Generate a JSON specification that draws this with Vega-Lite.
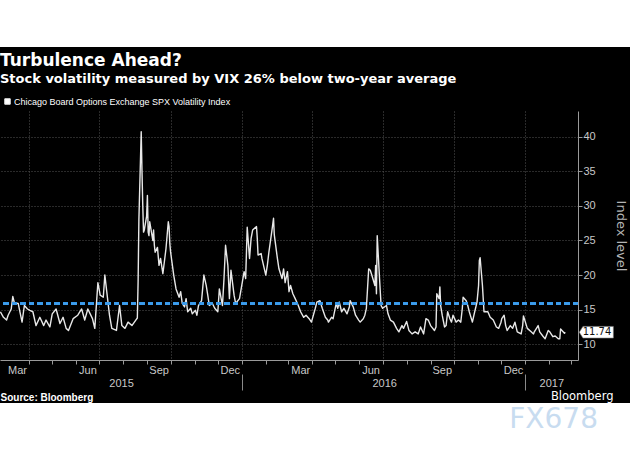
{
  "$schema": "https://vega.github.io/schema/vega-lite/v6.json",
  "background": "#000000",
  "padding": 0,
  "spacing": 5,
  "resolve": {"legend": {"color": "independent"}},
  "config": {
    "view": {"stroke": null},
    "font": "Liberation Sans",
    "axis": {
      "labelFont": "Liberation Sans",
      "labelFontSize": 11,
      "labelColor": "#c8c8c8",
      "domainColor": "#9a9a9a",
      "tickColor": "#9a9a9a",
      "gridColor": "#555555",
      "gridDash": [1, 2],
      "gridWidth": 1
    }
  },
  "vconcat": [
    {
      "width": 630,
      "height": 47,
      "view": {"fill": "#ffffff", "stroke": null},
      "data": {"values": []},
      "mark": "point",
      "encoding": {}
    },
    {
      "spacing": 0,
      "resolve": {"legend": {"color": "independent"}},
      "vconcat": [
        {
          "width": 578,
          "height": 249,
          "title": {
            "text": "Turbulence Ahead?",
            "subtitle": "Stock volatility measured by VIX 26% below two-year average",
            "anchor": "start",
            "font": "DejaVu Sans",
            "fontSize": 17,
            "fontWeight": "bold",
            "color": "#ffffff",
            "subtitleFont": "DejaVu Sans",
            "subtitleFontSize": 13,
            "subtitleFontWeight": "bold",
            "subtitleColor": "#ffffff",
            "subtitlePadding": 3,
            "offset": 10
          },
          "data": {
            "values": [
              {"date": "2015-02-23", "vix": 14.7}, {"date": "2015-02-27", "vix": 13.9}, {"date": "2015-03-03", "vix": 13.5},
              {"date": "2015-03-05", "vix": 14.2}, {"date": "2015-03-09", "vix": 15.1}, {"date": "2015-03-11", "vix": 16.9},
              {"date": "2015-03-13", "vix": 16.0}, {"date": "2015-03-18", "vix": 15.9}, {"date": "2015-03-23", "vix": 13.2},
              {"date": "2015-03-26", "vix": 15.6}, {"date": "2015-03-30", "vix": 15.1}, {"date": "2015-04-02", "vix": 14.9},
              {"date": "2015-04-06", "vix": 14.7}, {"date": "2015-04-10", "vix": 12.7}, {"date": "2015-04-15", "vix": 13.9},
              {"date": "2015-04-20", "vix": 12.7}, {"date": "2015-04-23", "vix": 13.5}, {"date": "2015-04-28", "vix": 12.5},
              {"date": "2015-05-01", "vix": 14.4}, {"date": "2015-05-06", "vix": 15.1}, {"date": "2015-05-11", "vix": 13.0},
              {"date": "2015-05-15", "vix": 13.9}, {"date": "2015-05-19", "vix": 12.3}, {"date": "2015-05-22", "vix": 12.0},
              {"date": "2015-05-28", "vix": 13.7}, {"date": "2015-06-03", "vix": 14.2}, {"date": "2015-06-08", "vix": 15.1},
              {"date": "2015-06-12", "vix": 13.5}, {"date": "2015-06-16", "vix": 15.1}, {"date": "2015-06-22", "vix": 13.7},
              {"date": "2015-06-25", "vix": 12.3}, {"date": "2015-06-29", "vix": 18.9}, {"date": "2015-07-02", "vix": 17.1},
              {"date": "2015-07-06", "vix": 16.8}, {"date": "2015-07-08", "vix": 20.0}, {"date": "2015-07-14", "vix": 14.2},
              {"date": "2015-07-17", "vix": 12.3}, {"date": "2015-07-23", "vix": 12.0}, {"date": "2015-07-27", "vix": 15.6},
              {"date": "2015-07-30", "vix": 12.7}, {"date": "2015-08-03", "vix": 12.3}, {"date": "2015-08-07", "vix": 13.2},
              {"date": "2015-08-12", "vix": 12.7}, {"date": "2015-08-17", "vix": 13.5}, {"date": "2015-08-19", "vix": 13.8},
              {"date": "2015-08-20", "vix": 19.1}, {"date": "2015-08-21", "vix": 28.0}, {"date": "2015-08-24", "vix": 40.7},
              {"date": "2015-08-25", "vix": 35.0}, {"date": "2015-08-26", "vix": 30.1}, {"date": "2015-08-27", "vix": 26.2},
              {"date": "2015-08-28", "vix": 26.5}, {"date": "2015-08-31", "vix": 28.5}, {"date": "2015-09-01", "vix": 31.5},
              {"date": "2015-09-02", "vix": 26.2}, {"date": "2015-09-03", "vix": 25.7}, {"date": "2015-09-04", "vix": 27.7},
              {"date": "2015-09-08", "vix": 25.0}, {"date": "2015-09-09", "vix": 26.5}, {"date": "2015-09-10", "vix": 24.3},
              {"date": "2015-09-11", "vix": 23.3}, {"date": "2015-09-14", "vix": 24.0}, {"date": "2015-09-16", "vix": 21.4},
              {"date": "2015-09-18", "vix": 22.4}, {"date": "2015-09-21", "vix": 20.2}, {"date": "2015-09-23", "vix": 22.0},
              {"date": "2015-09-25", "vix": 23.8}, {"date": "2015-09-28", "vix": 27.7}, {"date": "2015-09-29", "vix": 27.0},
              {"date": "2015-09-30", "vix": 24.5}, {"date": "2015-10-01", "vix": 23.3}, {"date": "2015-10-05", "vix": 20.0},
              {"date": "2015-10-08", "vix": 18.0}, {"date": "2015-10-12", "vix": 16.8}, {"date": "2015-10-14", "vix": 17.6},
              {"date": "2015-10-16", "vix": 15.9}, {"date": "2015-10-19", "vix": 15.4}, {"date": "2015-10-21", "vix": 16.6},
              {"date": "2015-10-23", "vix": 14.7}, {"date": "2015-10-27", "vix": 15.2}, {"date": "2015-10-29", "vix": 14.4},
              {"date": "2015-11-02", "vix": 14.9}, {"date": "2015-11-04", "vix": 14.2}, {"date": "2015-11-06", "vix": 15.6},
              {"date": "2015-11-10", "vix": 16.3}, {"date": "2015-11-13", "vix": 20.0}, {"date": "2015-11-16", "vix": 18.5},
              {"date": "2015-11-18", "vix": 17.1}, {"date": "2015-11-20", "vix": 15.6}, {"date": "2015-11-24", "vix": 15.9},
              {"date": "2015-11-27", "vix": 15.2}, {"date": "2015-12-01", "vix": 14.7}, {"date": "2015-12-03", "vix": 18.0},
              {"date": "2015-12-07", "vix": 15.6}, {"date": "2015-12-09", "vix": 19.5}, {"date": "2015-12-11", "vix": 24.3},
              {"date": "2015-12-14", "vix": 21.4}, {"date": "2015-12-16", "vix": 16.6}, {"date": "2015-12-18", "vix": 20.7},
              {"date": "2015-12-22", "vix": 17.1}, {"date": "2015-12-24", "vix": 15.9}, {"date": "2015-12-29", "vix": 16.6},
              {"date": "2016-01-04", "vix": 20.5}, {"date": "2016-01-06", "vix": 19.5}, {"date": "2016-01-08", "vix": 26.9},
              {"date": "2016-01-11", "vix": 22.4}, {"date": "2016-01-13", "vix": 25.3}, {"date": "2016-01-15", "vix": 26.5},
              {"date": "2016-01-20", "vix": 27.0}, {"date": "2016-01-21", "vix": 25.3}, {"date": "2016-01-22", "vix": 22.9},
              {"date": "2016-01-26", "vix": 23.1}, {"date": "2016-01-27", "vix": 22.4}, {"date": "2016-02-01", "vix": 20.0},
              {"date": "2016-02-03", "vix": 21.4}, {"date": "2016-02-05", "vix": 23.3}, {"date": "2016-02-09", "vix": 26.5},
              {"date": "2016-02-11", "vix": 28.2}, {"date": "2016-02-12", "vix": 25.8}, {"date": "2016-02-16", "vix": 22.4},
              {"date": "2016-02-18", "vix": 20.9}, {"date": "2016-02-22", "vix": 19.5}, {"date": "2016-02-24", "vix": 20.9},
              {"date": "2016-02-26", "vix": 18.9}, {"date": "2016-02-29", "vix": 20.5}, {"date": "2016-03-02", "vix": 17.6},
              {"date": "2016-03-04", "vix": 18.5}, {"date": "2016-03-07", "vix": 17.3}, {"date": "2016-03-10", "vix": 16.6},
              {"date": "2016-03-14", "vix": 15.6}, {"date": "2016-03-17", "vix": 14.7}, {"date": "2016-03-21", "vix": 13.9},
              {"date": "2016-03-24", "vix": 14.2}, {"date": "2016-03-28", "vix": 13.7}, {"date": "2016-03-31", "vix": 13.2},
              {"date": "2016-04-05", "vix": 15.2}, {"date": "2016-04-07", "vix": 16.1}, {"date": "2016-04-11", "vix": 16.3},
              {"date": "2016-04-14", "vix": 15.2}, {"date": "2016-04-18", "vix": 13.9}, {"date": "2016-04-21", "vix": 13.5},
              {"date": "2016-04-22", "vix": 13.2}, {"date": "2016-04-26", "vix": 13.9}, {"date": "2016-04-28", "vix": 13.7},
              {"date": "2016-05-02", "vix": 15.9}, {"date": "2016-05-04", "vix": 15.2}, {"date": "2016-05-06", "vix": 16.1},
              {"date": "2016-05-09", "vix": 14.7}, {"date": "2016-05-12", "vix": 15.2}, {"date": "2016-05-16", "vix": 14.4},
              {"date": "2016-05-19", "vix": 15.4}, {"date": "2016-05-20", "vix": 16.3}, {"date": "2016-05-24", "vix": 15.4},
              {"date": "2016-05-27", "vix": 14.2}, {"date": "2016-05-31", "vix": 13.5}, {"date": "2016-06-02", "vix": 13.2},
              {"date": "2016-06-06", "vix": 13.7}, {"date": "2016-06-08", "vix": 14.2}, {"date": "2016-06-10", "vix": 15.2},
              {"date": "2016-06-13", "vix": 20.9}, {"date": "2016-06-15", "vix": 20.7}, {"date": "2016-06-17", "vix": 20.0},
              {"date": "2016-06-21", "vix": 18.5}, {"date": "2016-06-22", "vix": 21.4}, {"date": "2016-06-23", "vix": 17.3},
              {"date": "2016-06-24", "vix": 25.7}, {"date": "2016-06-27", "vix": 19.5}, {"date": "2016-06-29", "vix": 15.6},
              {"date": "2016-07-01", "vix": 15.2}, {"date": "2016-07-06", "vix": 15.6}, {"date": "2016-07-08", "vix": 14.4},
              {"date": "2016-07-11", "vix": 13.5}, {"date": "2016-07-15", "vix": 13.2}, {"date": "2016-07-19", "vix": 12.3},
              {"date": "2016-07-22", "vix": 11.8}, {"date": "2016-07-26", "vix": 12.7}, {"date": "2016-07-28", "vix": 12.3},
              {"date": "2016-08-01", "vix": 13.3}, {"date": "2016-08-04", "vix": 12.0}, {"date": "2016-08-08", "vix": 11.5},
              {"date": "2016-08-12", "vix": 11.8}, {"date": "2016-08-16", "vix": 11.5}, {"date": "2016-08-19", "vix": 12.5},
              {"date": "2016-08-23", "vix": 11.5}, {"date": "2016-08-26", "vix": 13.7}, {"date": "2016-08-29", "vix": 13.5},
              {"date": "2016-09-01", "vix": 12.7}, {"date": "2016-09-06", "vix": 12.0}, {"date": "2016-09-08", "vix": 12.5},
              {"date": "2016-09-09", "vix": 17.3}, {"date": "2016-09-12", "vix": 16.6}, {"date": "2016-09-13", "vix": 18.3},
              {"date": "2016-09-14", "vix": 15.6}, {"date": "2016-09-16", "vix": 14.2}, {"date": "2016-09-19", "vix": 12.5},
              {"date": "2016-09-21", "vix": 12.7}, {"date": "2016-09-23", "vix": 14.7}, {"date": "2016-09-26", "vix": 13.7},
              {"date": "2016-09-28", "vix": 13.2}, {"date": "2016-09-30", "vix": 14.2}, {"date": "2016-10-04", "vix": 13.2},
              {"date": "2016-10-07", "vix": 13.5}, {"date": "2016-10-10", "vix": 13.2}, {"date": "2016-10-12", "vix": 15.2},
              {"date": "2016-10-13", "vix": 16.8}, {"date": "2016-10-17", "vix": 16.3}, {"date": "2016-10-19", "vix": 15.6},
              {"date": "2016-10-21", "vix": 14.7}, {"date": "2016-10-25", "vix": 13.2}, {"date": "2016-10-28", "vix": 14.7},
              {"date": "2016-10-31", "vix": 16.1}, {"date": "2016-11-02", "vix": 18.5}, {"date": "2016-11-03", "vix": 22.1},
              {"date": "2016-11-04", "vix": 22.5}, {"date": "2016-11-07", "vix": 18.5}, {"date": "2016-11-09", "vix": 14.7},
              {"date": "2016-11-14", "vix": 14.7}, {"date": "2016-11-17", "vix": 13.9}, {"date": "2016-11-21", "vix": 13.5},
              {"date": "2016-11-25", "vix": 12.5}, {"date": "2016-11-28", "vix": 12.3}, {"date": "2016-12-01", "vix": 13.2},
              {"date": "2016-12-02", "vix": 13.7}, {"date": "2016-12-05", "vix": 14.2}, {"date": "2016-12-07", "vix": 12.7},
              {"date": "2016-12-09", "vix": 12.0}, {"date": "2016-12-13", "vix": 12.7}, {"date": "2016-12-16", "vix": 12.3},
              {"date": "2016-12-19", "vix": 13.2}, {"date": "2016-12-22", "vix": 11.8}, {"date": "2016-12-27", "vix": 11.5},
              {"date": "2016-12-29", "vix": 12.7}, {"date": "2016-12-30", "vix": 14.1}, {"date": "2017-01-04", "vix": 12.3},
              {"date": "2017-01-09", "vix": 11.8}, {"date": "2017-01-12", "vix": 11.5}, {"date": "2017-01-13", "vix": 11.8},
              {"date": "2017-01-18", "vix": 12.7}, {"date": "2017-01-20", "vix": 11.8}, {"date": "2017-01-24", "vix": 11.2},
              {"date": "2017-01-27", "vix": 10.8}, {"date": "2017-01-31", "vix": 12.0}, {"date": "2017-02-02", "vix": 11.8},
              {"date": "2017-02-06", "vix": 11.1}, {"date": "2017-02-09", "vix": 11.2}, {"date": "2017-02-13", "vix": 10.8},
              {"date": "2017-02-15", "vix": 10.8}, {"date": "2017-02-16", "vix": 12.2}, {"date": "2017-02-21", "vix": 11.6},
              {"date": "2017-02-22", "vix": 11.74}
            ]
          },
          "resolve": {"scale": {"x": "independent"}, "axis": {"x": "independent"}},
          "layer": [
            {
              "mark": {"type": "line", "strokeWidth": 1.4, "strokeJoin": "round", "clip": true},
              "encoding": {
                "x": {
                  "field": "date",
                  "type": "temporal",
                  "scale": {
                    "type": "utc",
                    "domain": [
                      {"year": 2015, "month": 2, "date": 22, "hours": 12, "utc": true},
                      {"year": 2017, "month": 3, "date": 10, "hours": 12, "utc": true}
                    ]
                  },
                  "axis": {
                    "orient": "bottom",
                    "values": [
                      {"year": 2015, "month": 4, "date": 1, "utc": true},
                      {"year": 2015, "month": 5, "date": 1, "utc": true}, {"year": 2015, "month": 6, "date": 1, "utc": true},
                      {"year": 2015, "month": 7, "date": 1, "utc": true}, {"year": 2015, "month": 8, "date": 1, "utc": true},
                      {"year": 2015, "month": 9, "date": 1, "utc": true}, {"year": 2015, "month": 10, "date": 1, "utc": true},
                      {"year": 2015, "month": 11, "date": 1, "utc": true}, {"year": 2015, "month": 12, "date": 1, "utc": true},
                      {"year": 2016, "month": 1, "date": 1, "utc": true}, {"year": 2016, "month": 2, "date": 1, "utc": true},
                      {"year": 2016, "month": 3, "date": 1, "utc": true}, {"year": 2016, "month": 4, "date": 1, "utc": true},
                      {"year": 2016, "month": 5, "date": 1, "utc": true}, {"year": 2016, "month": 6, "date": 1, "utc": true},
                      {"year": 2016, "month": 7, "date": 1, "utc": true}, {"year": 2016, "month": 8, "date": 1, "utc": true},
                      {"year": 2016, "month": 9, "date": 1, "utc": true}, {"year": 2016, "month": 10, "date": 1, "utc": true},
                      {"year": 2016, "month": 11, "date": 1, "utc": true}, {"year": 2016, "month": 12, "date": 1, "utc": true},
                      {"year": 2017, "month": 1, "date": 1, "utc": true}, {"year": 2017, "month": 2, "date": 1, "utc": true},
                      {"year": 2017, "month": 3, "date": 1, "utc": true}
                    ],
                    "labelExpr": "utcmonth(datum.value) % 3 == 0 ? utcFormat(datum.value - 86400000, '%b') : ''",
                    "labelOffset": -12,
                    "labelOverlap": false,
                    "labelBound": false,
                    "labelFlush": false,
                    "labelPadding": 0,
                    "tickSize": 4,
                    "grid": true,
                    "gridOpacity": {"condition": {"test": "utcmonth(datum.value) % 3 == 0", "value": 1}, "value": 0},
                    "title": "Bloomberg",
                    "titleX": 613,
                    "titleY": 39,
                    "titleAlign": "right",
                    "titleBaseline": "alphabetic",
                    "titleFont": "DejaVu Sans",
                    "titleFontSize": 11.5,
                    "titleFontWeight": "normal",
                    "titleColor": "#ffffff"
                  }
                },
                "y": {
                  "field": "vix",
                  "type": "quantitative",
                  "scale": {"domain": [7.73, 43.7], "nice": false, "zero": false},
                  "axis": {
                    "orient": "right",
                    "values": [10, 15, 20, 25, 30, 35, 40],
                    "title": "Index level",
                    "titleFont": "DejaVu Sans",
                    "titleFontSize": 13,
                    "titleFontWeight": "normal",
                    "titleColor": "#b4b4b4",
                    "titlePadding": 18,
                    "tickSize": 4,
                    "labelPadding": 1,
                    "grid": true
                  }
                },
                "color": {
                  "datum": "Chicago Board Options Exchange SPX Volatility Index",
                  "scale": {"range": ["#e8e8e8"]},
                  "legend": {
                    "orient": "top",
                    "title": null,
                    "symbolType": "square",
                    "symbolSize": 30,
                    "symbolFillColor": "#ffffff",
                    "symbolStrokeColor": "#ffffff",
                    "symbolStrokeWidth": 1,
                    "symbolOffset": 3,
                    "labelOffset": 2,
                    "labelFont": "Liberation Sans",
                    "labelFontSize": 9,
                    "labelColor": "#ffffff",
                    "labelLimit": 500,
                    "offset": 4,
                    "padding": 0
                  }
                }
              }
            },
            {
              "mark": {"type": "rule", "color": "#3d9cec", "strokeWidth": 2, "strokeDash": [5, 3.5], "clip": true},
              "encoding": {
                "y": {"datum": 15.86, "type": "quantitative", "scale": {"domain": [7.73, 43.7], "nice": false, "zero": false}}
              }
            },
            {
              "data": {"values": [{"date": "2016-01-01"}]},
              "mark": {"type": "point", "opacity": 0},
              "encoding": {
                "x": {
                  "field": "date",
                  "type": "temporal",
                  "scale": {
                    "type": "utc",
                    "domain": [
                      {"year": 2015, "month": 2, "date": 22, "hours": 12, "utc": true},
                      {"year": 2017, "month": 3, "date": 10, "hours": 12, "utc": true}
                    ]
                  },
                  "axis": {
                    "orient": "bottom",
                    "offset": 14,
                    "domain": false,
                    "grid": false,
                    "values": [
                      {"year": 2015, "month": 7, "date": 29, "utc": true},
                      {"year": 2016, "month": 1, "date": 1, "utc": true},
                      {"year": 2016, "month": 7, "date": 3, "utc": true},
                      {"year": 2017, "month": 1, "date": 1, "utc": true},
                      {"year": 2017, "month": 2, "date": 4, "utc": true}
                    ],
                    "tickSize": 16,
                    "tickColor": "#8a8a8a",
                    "tickOpacity": {"condition": {"test": "utcmonth(datum.value) == 0 && utcdate(datum.value) == 1", "value": 1}, "value": 0},
                    "labelExpr": "(utcmonth(datum.value) == 0 && utcdate(datum.value) == 1) ? '' : utcFormat(datum.value, '%Y')",
                    "labelPadding": -13,
                    "labelOverlap": false,
                    "labelBound": false,
                    "labelFlush": false,
                    "title": "Source: Bloomberg",
                    "titleAnchor": "start",
                    "titleAlign": "left",
                    "titleFont": "Liberation Sans",
                    "titleFontSize": 10,
                    "titleFontWeight": "bold",
                    "titleColor": "#ffffff",
                    "titlePadding": 2
                  }
                }
              }
            },
            {
              "data": {"values": [{"last": 11.74}]},
              "mark": {
                "type": "point",
                "shape": "M 0.076 0 L 0.29 -0.344 L 2.08 -0.344 L 2.08 0.344 L 0.29 0.344 Z",
                "size": 1156,
                "filled": true,
                "fill": "#ffffff",
                "stroke": "#777777",
                "strokeWidth": 0.6,
                "opacity": 1
              },
              "encoding": {
                "x": {"value": "width"},
                "y": {"field": "last", "type": "quantitative", "scale": {"domain": [7.73, 43.7], "nice": false, "zero": false}}
              }
            },
            {
              "data": {"values": [{"last": 11.74}]},
              "mark": {"type": "text", "dx": 19, "align": "center", "baseline": "middle", "font": "DejaVu Sans", "fontSize": 10, "color": "#111111"},
              "encoding": {
                "x": {"value": "width"},
                "y": {"field": "last", "type": "quantitative", "scale": {"domain": [7.73, 43.7], "nice": false, "zero": false}},
                "text": {"field": "last", "type": "quantitative", "format": ".2f"}
              }
            }
          ]
        },
        {
          "width": 630,
          "height": 50,
          "view": {"fill": "#ffffff", "stroke": null},
          "data": {"values": []},
          "mark": "point",
          "encoding": {},
          "title": {
            "text": "FX678",
            "orient": "bottom",
            "anchor": "end",
            "offset": -47,
            "dx": -32,
            "font": "DejaVu Sans",
            "fontSize": 28,
            "fontWeight": "normal",
            "color": "#c8dcf0"
          }
        }
      ]
    }
  ]
}
